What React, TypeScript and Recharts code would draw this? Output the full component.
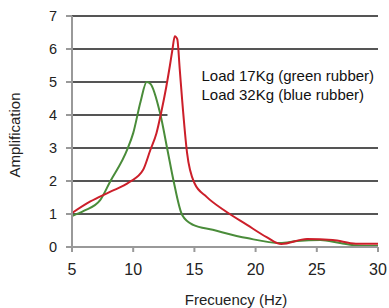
import React from "react";
import {
  LineChart,
  Line,
  XAxis,
  YAxis,
  CartesianGrid,
  ReferenceArea,
} from "recharts";

// Curva de carga 17Kg (verde)
const greenFreq = [5, 6, 7.3, 8.1, 9.5, 10, 10.6, 11.1, 11.4, 12.2, 12.8, 13.3, 14.0, 14.9, 16.5, 19.3, 22.0, 23.4, 25.3, 26.9, 28.5, 30];
const greenAmp = [0.94, 1.1, 1.42, 1.97, 2.94, 3.45, 4.4, 5.0, 4.95, 4.05, 2.94, 2.0, 0.97, 0.67, 0.52, 0.27, 0.12, 0.18, 0.21, 0.12, 0.04, 0.03];

// Curva de carga 32Kg (rojo)
const redFreq = [5, 6.5, 8.1, 9.7, 10.8, 11.4, 11.9, 12.3, 12.7, 13.0, 13.2, 13.4, 13.6, 13.8, 14.0, 14.4, 15.0, 16.0, 17.4, 19.3, 20.9, 22.1, 24.2, 26.3, 28.2, 30];
const redAmp = [1.03, 1.38, 1.67, 1.97, 2.33, 2.94, 3.45, 4.1, 4.85, 5.5, 5.97, 6.39, 6.3, 5.4, 4.45, 2.85, 1.94, 1.52, 1.12, 0.67, 0.3, 0.09, 0.24, 0.21, 0.1, 0.1];

const xTicks = [5, 10, 15, 20, 25, 30];
const yTicks = [0, 1, 2, 3, 4, 5, 6, 7];

const legendLines = ["Load 17Kg (green rubber)", "Load 32Kg (blue rubber)"];

const greenData = greenFreq.map((f, i) => ({ f, amp: greenAmp[i] }));
const redData = redFreq.map((f, i) => ({ f, amp: redAmp[i] }));

const FONT = "Arial, 'Liberation Sans', sans-serif";

// eslint-disable-next-line @typescript-eslint/no-explicit-any
const renderLegend = (props: any) => {
  const { viewBox } = props;
  const x = viewBox.x + 34;
  const y = viewBox.y + 15;
  return (
    <g>
      {legendLines.map((txt, i) => (
        <text
          key={i}
          x={x}
          y={y + i * 19}
          fill="#111"
          fontSize={15}
          fontFamily={FONT}
          dominantBaseline="central"
        >
          {txt}
        </text>
      ))}
    </g>
  );
};

export default function App() {
  return (
    <div style={{ position: "absolute", left: 0, top: 0, background: "#fff" }}>
      <LineChart
        width={389}
        height={308}
        margin={{ top: 16, right: 11, left: 0, bottom: 0 }}
      >
        <CartesianGrid
          horizontal
          vertical={false}
          stroke="#555"
          strokeWidth={1.8}
        />
        <XAxis
          type="number"
          dataKey="f"
          domain={[5, 30]}
          ticks={xTicks}
          allowDuplicatedCategory={false}
          height={61}
          stroke="#999"
          strokeWidth={2}
          tickSize={5}
          tickMargin={12}
          tick={{ fill: "#222", fontSize: 16, fontFamily: FONT }}
          label={{
            value: "Frecuency (Hz)",
            position: "insideBottom",
            offset: 3,
            dx: 11,
            fill: "#222",
            fontSize: 15,
            fontFamily: FONT,
          }}
        />
        <YAxis
          type="number"
          domain={[0, 7]}
          ticks={yTicks}
          width={72}
          stroke="#999"
          strokeWidth={2}
          tickSize={6}
          tickMargin={9}
          tick={{ fill: "#222", fontSize: 14.5, fontFamily: FONT }}
          label={{
            value: "Amplification",
            angle: -90,
            position: "insideLeft",
            offset: 15,
            dy: 46,
            fill: "#222",
            fontSize: 15,
            fontFamily: FONT,
          }}
        />
        <ReferenceArea
          x1={12.8}
          x2={30}
          y1={3.55}
          y2={5.65}
          fill="#fff"
          fillOpacity={1}
          stroke="none"
          label={renderLegend}
        />
        <Line
          data={greenData}
          dataKey="amp"
          type="monotone"
          stroke="#4a8c3a"
          strokeWidth={2}
          dot={false}
          isAnimationActive={false}
        />
        <Line
          data={redData}
          dataKey="amp"
          type="monotone"
          stroke="#cc1f2a"
          strokeWidth={2}
          dot={false}
          isAnimationActive={false}
        />
      </LineChart>
    </div>
  );
}
